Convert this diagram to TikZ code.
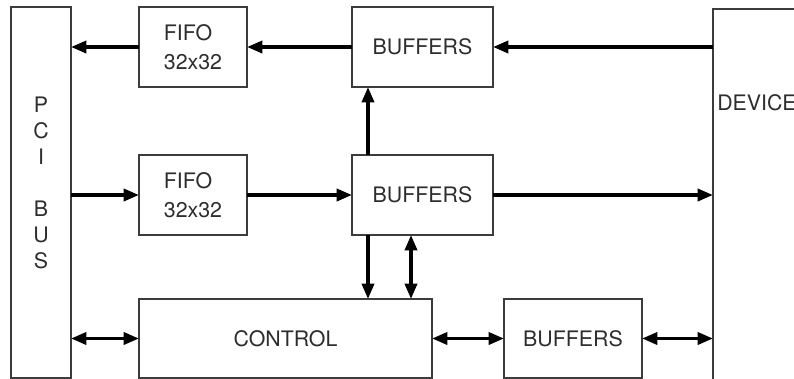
\documentclass[tikz,border=0pt]{standalone}
\usepackage{fontspec}
\setmainfont{TeX Gyre Heros}
\usetikzlibrary{arrows.meta}

\definecolor{boxline}{RGB}{60,60,60}
\definecolor{boxtext}{RGB}{45,45,45}

\tikzset{
  unit/.style={draw=boxline, line width=1.3pt, inner sep=0pt, outer sep=0pt, font=\fontsize{16}{21.75}\selectfont, text=boxtext},
  flow/.style={line width=2.6pt, -{Triangle[length=11.5pt,width=9pt]}},
  twoway/.style={line width=2.6pt, {Triangle[length=11.5pt,width=9pt]}-{Triangle[length=11.5pt,width=9pt]}}
}

\begin{document}
\begin{tikzpicture}[x=0.75pt,y=0.75pt,yscale=-1]
\useasboundingbox (0,0) rectangle (794,379);

% Shape: PCI bus
\node [unit, minimum width=45pt, minimum height=278.25pt] (pci) at (41,192.5) {};
% Shape: Device
\node [unit, minimum width=87.75pt, minimum height=293.25pt] (device) at (771.5,204.5) {};

% Shape: top row
\node [unit, minimum width=81pt, minimum height=60pt, align=left] (fifoout) at (193,47) {FIFO\\32x32};
\node [unit, minimum width=105.75pt, minimum height=60pt] (bufout) at (422.5,47) {BUFFERS};

% Shape: middle row
\node [unit, minimum width=81pt, minimum height=60pt, align=left] (fifoin) at (193,195) {FIFO\\32x32};
\node [unit, minimum width=105.75pt, minimum height=60pt] (bufin) at (422.5,195) {BUFFERS};

% Shape: bottom row
\node [unit, minimum width=219.75pt, minimum height=59.25pt] (control) at (285.5,338.5) {CONTROL};
\node [unit, minimum width=103.5pt, minimum height=59.25pt] (bufdev) at (573,338.5) {BUFFERS};

% Text Node
\node [font=\fontsize{16}{19.5}\selectfont, text=boxtext, align=center] (pcilabel) at (41,183) {P\\C\\I\\[19.5pt]B\\U\\S};
% Text Node
\node [font=\fontsize{16}{19.5}\selectfont, text=boxtext, anchor=west, inner sep=0pt] (devlabel) at (717,103) {DEVICE};

% Straight Lines
\coordinate (upx) at (368,0);
\coordinate (bix) at (411,0);
\draw [flow] (fifoout.west) -- (fifoout.west -| pci.east);
\draw [flow] (bufout.west) -- (fifoout.east);
\draw [flow] (bufout.east -| device.west) -- (bufout.east);
\draw [flow] (fifoin.west -| pci.east) -- (fifoin.west);
\draw [flow] (fifoin.east) -- (bufin.west);
\draw [flow] (bufin.east) -- (bufin.east -| device.west);
\draw [flow] (bufin.north -| upx) -- (bufout.south -| upx);
\draw [flow] (bufin.south -| upx) -- (control.north -| upx);
\draw [twoway] (bufin.south -| bix) -- (control.north -| bix);
\draw [twoway] (control.west -| pci.east) -- (control.west);
\draw [twoway] (control.east) -- (bufdev.west);
\draw [twoway] (bufdev.east) -- (bufdev.east -| device.west);

\end{tikzpicture}
\end{document}
